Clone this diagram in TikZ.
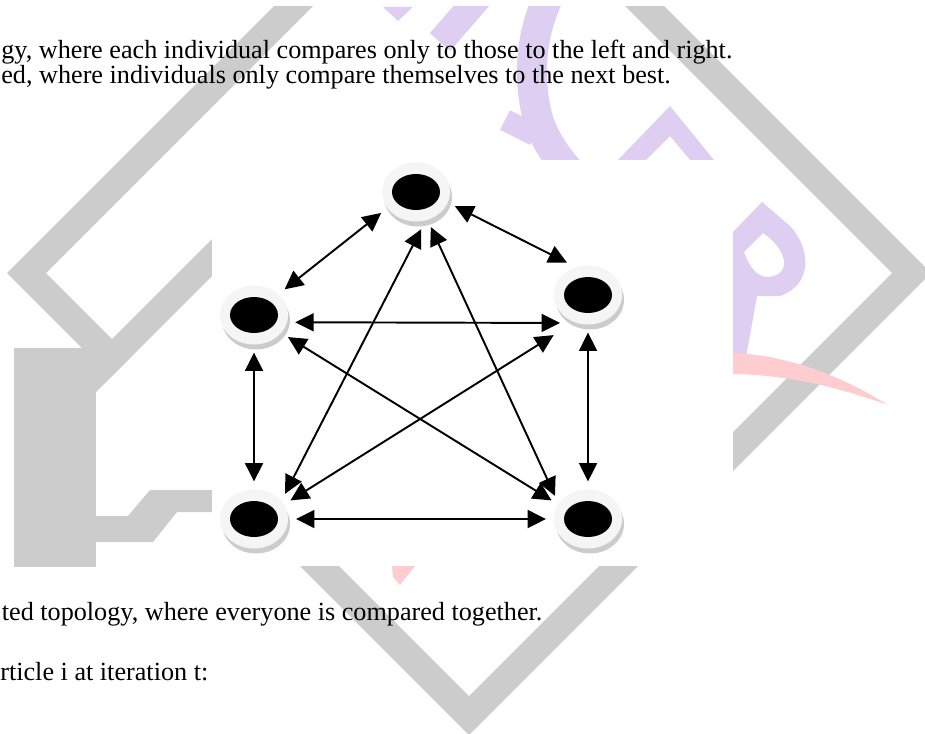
\documentclass[tikz,border=0pt]{standalone}
\usepackage{fontspec}
\setmainfont{Liberation Serif}
\usepackage{tikz}
\usetikzlibrary{arrows.meta,shapes.geometric,shadows}

\definecolor{wmgray}{RGB}{204,204,204}
\definecolor{wmpurple}{RGB}{222,206,242}
\definecolor{wmpink}{RGB}{255,204,208}

\begin{document}
\begin{tikzpicture}[
  x=0.02cm, y=-0.02cm,
  agent/.style={ellipse, fill=gray!8, minimum width=1.36cm, minimum height=1.18cm,
    inner sep=0pt, outer sep=0.16cm,
    drop shadow={shadow xshift=0.04cm, shadow yshift=-0.1cm, fill=gray!40, opacity=1},
    path picture={\fill[black] (path picture bounding box.center) ellipse [x radius=0.48cm, y radius=0.36cm];}},
  txt/.style={anchor=base west, inner sep=0pt, font=\fontsize{14.9pt}{18pt}\selectfont},
  link/.style={<->, >={Triangle[length=0.37cm, width=0.36cm]}, line width=1.1pt}
]
\useasboundingbox (0,0) rectangle (925,733);

% watermark behind the page
\begin{scope}
  \clip (0,7) rectangle (925,733);
  \fill[wmgray, even odd rule] (7,273) -- (469,-189) -- (931,273) -- (469,735) -- cycle
    (46,273) -- (469,-150) -- (892,273) -- (469,696) -- cycle;
  \fill[white] (96,392) -- (212,276) -- (212,490) -- (150,490) -- (128,516) -- (96,516) -- cycle;
  \fill[wmgray] (14,348) rectangle (96,567);
  \fill[wmgray] (60,428) -- (212,276) -- (212,239) -- (60,391) -- cycle;
  \fill[wmgray] (96,516) -- (128,516) -- (150,490) -- (212,490) -- (212,512) -- (177,512) -- (153,542) -- (96,542) -- cycle;
  \fill[wmpurple] (383,7) -- (413,7) -- (398,21) -- cycle;
  \draw[wmpurple, line width=0.54cm] (440,42) -- (480,-4);
  \draw[wmpurple, line width=0.6cm] (548,-2) .. controls (526,45) and (530,95) .. (540,125) .. controls (548,145) and (558,158) .. (570,172);
  \draw[wmpurple, line width=0.44cm] (505,120) -- (535,135);
  \fill[wmpurple] (618,160) -- (670,106) -- (714,160) -- (690,160) -- (670,136) -- (646,160) -- cycle;
  \fill[wmpurple, even odd rule] (733,232) -- (762,202) -- (790,226) .. controls (812,250) and (812,285) .. (780,296) -- (757,296) -- (745,363) -- (733,363) -- cycle
    (744,252) -- (763,233) .. controls (788,250) and (792,275) .. (768,277) .. controls (757,277) and (750,268) .. (744,252) -- cycle;
  \fill[wmpink] (733,353) .. controls (790,355) and (845,378) .. (888,405) .. controls (840,388) and (790,375) .. (733,374) -- cycle;
  \fill[wmpink] (392,566) -- (415,566) -- (400,585) -- (393,577) -- cycle;
\end{scope}
\fill[white] (212,160) rectangle (733,566);

% page text
\node[txt] (line1) at (1,59) {gy, where each individual compares only to those to the left and right.};
\node[txt] (line2) at (1,83.5) {ed, where individuals only compare themselves to the next best.};
\node[txt] (line3) at (1.5,620) {ted topology, where everyone is compared together.};
\node[txt] (line4) at (0,680) {rticle i at iteration t:};

% particles
\node[agent] (apex) at (416,192) {};
\node[agent] (lwing) at (254,315) {};
\node[agent] (rwing) at (588,295) {};
\node[agent] (lfoot) at (254,519) {};
\node[agent] (rfoot) at (588,519) {};

% everyone linked to everyone
\draw[link] (apex.211) -- (lwing.40);
\draw[link] (apex.-20) -- (rwing.123);
\draw[link] (lwing.-10) -- (rwing.225);
\draw[link] (lwing.-90) -- (lfoot.90);
\draw[link] (rwing.-90) -- (rfoot.90);
\draw[link] (lfoot.0) -- (rfoot.180);
\draw[link] (apex.-82) -- (lfoot.39);
\draw[link] (apex.-67) -- (rfoot.145);
\draw[link] (lwing.-33) -- (rfoot.153);
\draw[link, shorten <=0.3cm] (rwing.236) -- (lfoot.27);
\end{tikzpicture}
\end{document}
